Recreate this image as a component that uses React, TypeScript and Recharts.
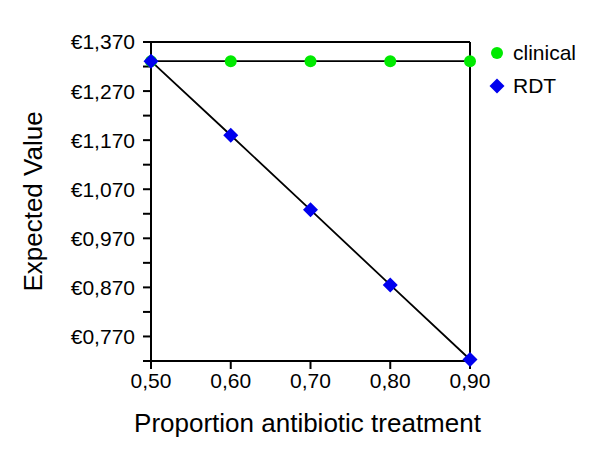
import {
  ComposedChart, Line, XAxis, YAxis, Legend, ReferenceLine, Label
} from 'recharts'

const proportions = [0.5, 0.6, 0.7, 0.8, 0.9]
const clinicalValues = [1.331, 1.331, 1.331, 1.331, 1.331]
const rdtValues = [1.331, 1.18, 1.028, 0.875, 0.723]
const yTicks = [0.72, 0.77, 0.82, 0.87, 0.92, 0.97, 1.02, 1.07, 1.12, 1.17, 1.22, 1.27, 1.32, 1.37]
const seriesNames = ['clinical', 'RDT']

const GREEN = '#00ea00'
const BLUE = '#0000ee'
const FONT = '"Liberation Sans", Arial, sans-serif'

const data = proportions.map((x, i) => ({
  x,
  clinical: clinicalValues[i],
  rdt: rdtValues[i],
}))

// only every other tick gets a label (0,770 / 0,870 / ...)
const yFormat = (v: number) => {
  const k = Math.round(v * 100)
  if (k % 10 !== 7) return ''
  return '€' + v.toFixed(3).replace('.', ',')
}
const xFormat = (v: number) => v.toFixed(2).replace('.', ',')

const Circle = (props: any) => {
  const { cx, cy, index } = props
  if (cx == null || cy == null) return null
  return <circle key={`c-${index}`} cx={cx} cy={cy} r={6} fill={GREEN} />
}

const Diamond = (props: any) => {
  const { cx, cy, index } = props
  if (cx == null || cy == null) return null
  const s = 7.5
  return (
    <polygon
      key={`d-${index}`}
      points={`${cx},${cy - s} ${cx + s},${cy} ${cx},${cy + s} ${cx - s},${cy}`}
      fill={BLUE}
    />
  )
}

const LegendContent = () => (
  <div style={{ fontFamily: FONT, fontSize: 21, color: '#000' }}>
    <div style={{ display: 'flex', alignItems: 'center', height: 26, marginBottom: 7 }}>
      <svg width={18} height={18}>
        <circle cx={9} cy={9} r={6} fill={GREEN} />
      </svg>
      <span style={{ marginLeft: 7 }}>{seriesNames[0]}</span>
    </div>
    <div style={{ display: 'flex', alignItems: 'center', height: 26 }}>
      <svg width={18} height={18}>
        <polygon points="9,1.5 16.5,9 9,16.5 1.5,9" fill={BLUE} />
      </svg>
      <span style={{ marginLeft: 7 }}>{seriesNames[1]}</span>
    </div>
  </div>
)

export default function App() {
  const axisStroke = { stroke: '#000', strokeWidth: 2 }
  return (
    <div style={{ position: 'absolute', left: 0, top: 0, background: '#fff' }}>
      <ComposedChart
        width={600}
        height={459}
        data={data}
        margin={{ top: 42, right: 130, bottom: 0, left: 0 }}
      >
        <XAxis
          dataKey="x"
          type="number"
          domain={[0.5, 0.9]}
          ticks={proportions}
          interval={0}
          tickFormatter={xFormat}
          height={98}
          tickSize={8}
          tickMargin={4}
          axisLine={axisStroke}
          tickLine={axisStroke}
          tick={{ fill: '#000', fontSize: 21, fontFamily: FONT }}
        >
          <Label
            value="Proportion antibiotic treatment"
            position="insideBottom"
            offset={27}
            dx={-3}
            style={{ fill: '#000', fontSize: 26, fontFamily: FONT }}
          />
        </XAxis>
        <YAxis
          type="number"
          domain={[0.72, 1.37]}
          ticks={yTicks}
          interval={0}
          tickFormatter={yFormat}
          width={151}
          tickSize={8}
          tickMargin={8}
          axisLine={axisStroke}
          tickLine={axisStroke}
          tick={{ fill: '#000', fontSize: 21, fontFamily: FONT }}
        >
          <Label
            value="Expected Value"
            angle={-90}
            position="insideLeft"
            offset={33}
            style={{ fill: '#000', fontSize: 26, fontFamily: FONT, textAnchor: 'middle' }}
          />
        </YAxis>
        <ReferenceLine y={1.37} stroke="#000" strokeWidth={2} />
        <ReferenceLine x={0.9} stroke="#000" strokeWidth={2} />
        <Legend
          content={<LegendContent />}
          layout="horizontal"
          verticalAlign="middle"
          align="center"
          wrapperStyle={{ left: 488, top: 40, width: 110 }}
        />
        {/* markers first, black lines drawn over them */}
        <Line dataKey="clinical" stroke="none" dot={Circle} activeDot={false} isAnimationActive={false} legendType="none" />
        <Line dataKey="rdt" stroke="none" dot={Diamond} activeDot={false} isAnimationActive={false} legendType="none" />
        <Line dataKey="clinical" stroke="#000" strokeWidth={1.8} dot={false} activeDot={false} isAnimationActive={false} legendType="none" />
        <Line dataKey="rdt" stroke="#000" strokeWidth={1.8} dot={false} activeDot={false} isAnimationActive={false} legendType="none" />
      </ComposedChart>
    </div>
  )
}
